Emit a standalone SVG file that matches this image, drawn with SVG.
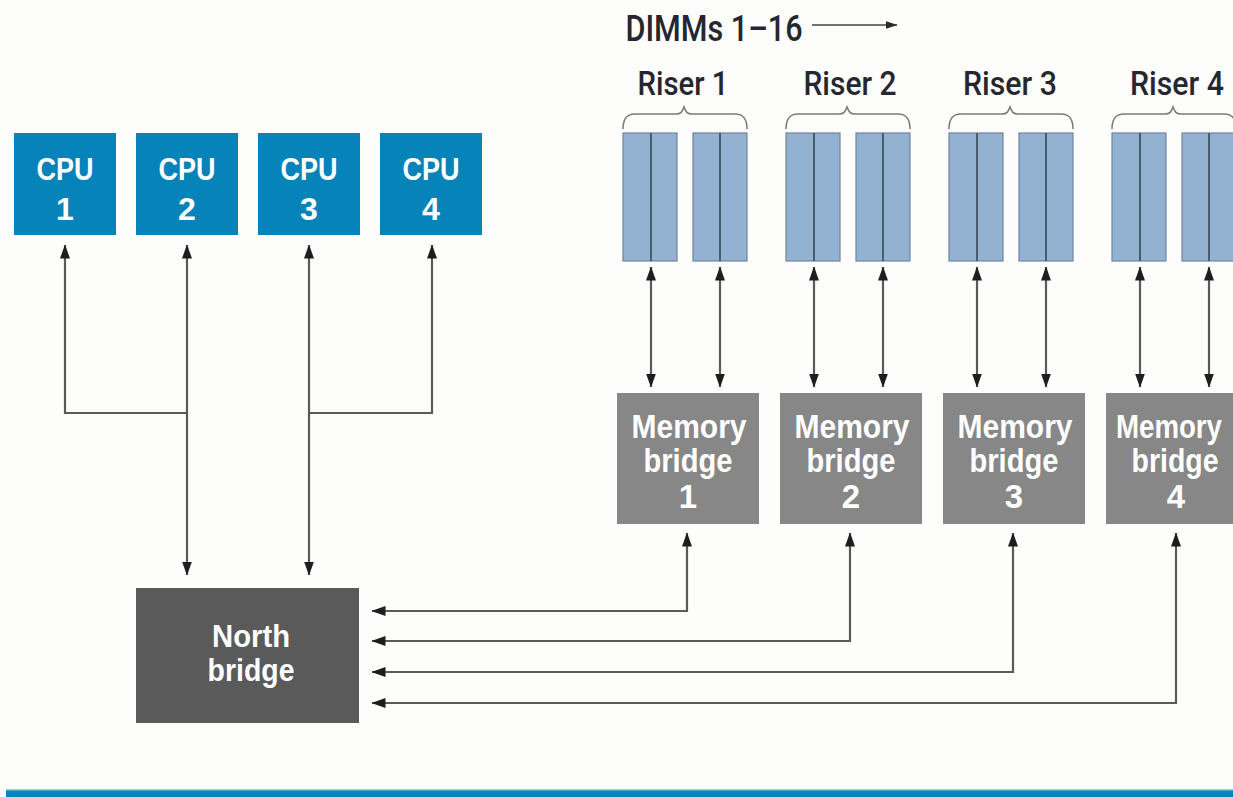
<svg xmlns="http://www.w3.org/2000/svg" width="1233" height="797" viewBox="0 0 1233 797">
  <defs>
    <marker id="ah" viewBox="0 0 14 10" markerUnits="userSpaceOnUse" markerWidth="14" markerHeight="10" refX="13.5" refY="5" orient="auto-start-reverse">
      <path d="M0,0 L14,5 L0,10 z" fill="#1e1e1e"/>
    </marker>
    <marker id="ahs" viewBox="0 0 12 8" markerUnits="userSpaceOnUse" markerWidth="12" markerHeight="8" refX="11.5" refY="4" orient="auto">
      <path d="M0,0 L12,4 L0,8 z" fill="#2a2a2a"/>
    </marker>
    <linearGradient id="barGrad" x1="0" y1="0" x2="0" y2="1">
      <stop offset="0" stop-color="#bfdcea"/>
      <stop offset="0.3" stop-color="#0a89bd"/>
      <stop offset="1" stop-color="#0083b9"/>
    </linearGradient>
  </defs>
  <style>
    .cpu { fill: #0683b8; }
    .mb { fill: #878787; }
    .nb { fill: #5a5a5a; }
    .stick { fill: #93b1d1; stroke: #6f849b; stroke-width: 1.2; }
    .div { stroke: #4b5b6e; stroke-width: 2; }
    .brace { fill: none; stroke: #7a7a7a; stroke-width: 1.6; }
    .wt { fill: #ffffff; font-family: "Liberation Sans", Arial, sans-serif; font-weight: bold; text-anchor: middle; }
    .mbt { font-size: 33px; }
    .lbl { fill: #262630; font-family: Roboto, "Liberation Sans", Arial, sans-serif; font-weight: 500; text-anchor: middle; }
    .conn path { fill: none; stroke: #5a5a5a; stroke-width: 2.2; }
  </style>

  <rect x="0" y="0" width="1233" height="797" fill="#fdfdfb"/>

  <!-- title -->
  <g id="dimms-label">
    <text class="lbl" x="714" y="41" font-size="36" textLength="177" lengthAdjust="spacingAndGlyphs">DIMMs 1–16</text>
    <path d="M812,25 H897" stroke="#444" stroke-width="1.6" fill="none" marker-end="url(#ahs)"/>
  </g>

  <!-- CPUs -->
  <g id="cpu1">
    <rect class="cpu" x="14" y="133" width="102" height="102"/>
    <text class="wt" x="65" y="180" font-size="32" textLength="57" lengthAdjust="spacingAndGlyphs">CPU</text>
    <text class="wt" x="65" y="220" font-size="32">1</text>
  </g>
  <g id="cpu2">
    <rect class="cpu" x="136" y="133" width="102" height="102"/>
    <text class="wt" x="187" y="180" font-size="32" textLength="57" lengthAdjust="spacingAndGlyphs">CPU</text>
    <text class="wt" x="187" y="220" font-size="32">2</text>
  </g>
  <g id="cpu3">
    <rect class="cpu" x="258" y="133" width="102" height="102"/>
    <text class="wt" x="309" y="180" font-size="32" textLength="57" lengthAdjust="spacingAndGlyphs">CPU</text>
    <text class="wt" x="309" y="220" font-size="32">3</text>
  </g>
  <g id="cpu4">
    <rect class="cpu" x="380" y="133" width="102" height="102"/>
    <text class="wt" x="431" y="180" font-size="32" textLength="57" lengthAdjust="spacingAndGlyphs">CPU</text>
    <text class="wt" x="431" y="220" font-size="32">4</text>
  </g>

  <!-- North bridge -->
  <g id="north-bridge">
    <rect class="nb" x="136" y="588" width="223" height="135"/>
    <text class="wt" x="251" y="647" font-size="32" textLength="78" lengthAdjust="spacingAndGlyphs">North</text>
    <text class="wt" x="251" y="681" font-size="32" textLength="87" lengthAdjust="spacingAndGlyphs">bridge</text>
  </g>

  <!-- Risers with DIMM sticks -->
  <g id="riser1">
    <text class="lbl" x="683" y="95" font-size="33" textLength="91" lengthAdjust="spacingAndGlyphs">Riser 1</text>
    <path class="brace" d="M623,129 C623,118 627,114 635,114 H676 C681,114 682,112 684,107 C686,112 687,114 692,114 H735 C743,114 747,118 747,129"/>
    <rect class="stick" x="623" y="133" width="54" height="128"/>
    <rect class="stick" x="693" y="133" width="54" height="128"/>
    <path class="div" d="M651,133 V261 M720,133 V261"/>
  </g>
  <g id="riser2">
    <text class="lbl" x="850" y="95" font-size="33" textLength="93" lengthAdjust="spacingAndGlyphs">Riser 2</text>
    <path class="brace" d="M786,129 C786,118 790,114 798,114 H839 C844,114 845,112 847,107 C849,112 850,114 855,114 H898 C906,114 910,118 910,129"/>
    <rect class="stick" x="786" y="133" width="54" height="128"/>
    <rect class="stick" x="856" y="133" width="54" height="128"/>
    <path class="div" d="M814,133 V261 M883,133 V261"/>
  </g>
  <g id="riser3">
    <text class="lbl" x="1010" y="95" font-size="33" textLength="94" lengthAdjust="spacingAndGlyphs">Riser 3</text>
    <path class="brace" d="M949,129 C949,118 953,114 961,114 H1002 C1007,114 1008,112 1010,107 C1012,112 1013,114 1018,114 H1061 C1069,114 1073,118 1073,129"/>
    <rect class="stick" x="949" y="133" width="54" height="128"/>
    <rect class="stick" x="1019" y="133" width="54" height="128"/>
    <path class="div" d="M977,133 V261 M1046,133 V261"/>
  </g>
  <g id="riser4">
    <text class="lbl" x="1177" y="95" font-size="33" textLength="94" lengthAdjust="spacingAndGlyphs">Riser 4</text>
    <path class="brace" d="M1112,129 C1112,118 1116,114 1124,114 H1165 C1170,114 1171,112 1173,107 C1175,112 1176,114 1181,114 H1224 C1232,114 1236,118 1236,129"/>
    <rect class="stick" x="1112" y="133" width="54" height="128"/>
    <rect class="stick" x="1182" y="133" width="54" height="128"/>
    <path class="div" d="M1140,133 V261 M1209,133 V261"/>
  </g>

  <!-- Memory bridges -->
  <g id="memory-bridge1">
    <rect class="mb" x="617" y="393" width="142" height="131"/>
    <text class="wt mbt" x="689" y="438" textLength="115" lengthAdjust="spacingAndGlyphs">Memory</text>
    <text class="wt mbt" x="688" y="472" textLength="89" lengthAdjust="spacingAndGlyphs">bridge</text>
    <text class="wt mbt" x="688" y="508">1</text>
  </g>
  <g id="memory-bridge2">
    <rect class="mb" x="780" y="393" width="142" height="131"/>
    <text class="wt mbt" x="852" y="438" textLength="115" lengthAdjust="spacingAndGlyphs">Memory</text>
    <text class="wt mbt" x="851" y="472" textLength="89" lengthAdjust="spacingAndGlyphs">bridge</text>
    <text class="wt mbt" x="851" y="508">2</text>
  </g>
  <g id="memory-bridge3">
    <rect class="mb" x="943" y="393" width="142" height="131"/>
    <text class="wt mbt" x="1015" y="438" textLength="115" lengthAdjust="spacingAndGlyphs">Memory</text>
    <text class="wt mbt" x="1014" y="472" textLength="89" lengthAdjust="spacingAndGlyphs">bridge</text>
    <text class="wt mbt" x="1014" y="508">3</text>
  </g>
  <g id="memory-bridge4">
    <rect class="mb" x="1106" y="393" width="127" height="131"/>
    <text class="wt mbt" x="1169" y="438" textLength="106" lengthAdjust="spacingAndGlyphs">Memory</text>
    <text class="wt mbt" x="1175" y="472" textLength="87" lengthAdjust="spacingAndGlyphs">bridge</text>
    <text class="wt mbt" x="1176" y="508">4</text>
  </g>

  <!-- Connectors -->
  <g id="connectors" class="conn">
    <!-- CPU buses to north bridge -->
    <path d="M186,413 H65 V245" marker-end="url(#ah)"/>
    <path d="M187,245 V575" marker-start="url(#ah)" marker-end="url(#ah)"/>
    <path d="M309,245 V575" marker-start="url(#ah)" marker-end="url(#ah)"/>
    <path d="M309,413 H432 V245" marker-end="url(#ah)"/>
    <!-- DIMM links to memory bridges -->
    <path d="M651,267 V387" marker-start="url(#ah)" marker-end="url(#ah)"/>
    <path d="M720,267 V387" marker-start="url(#ah)" marker-end="url(#ah)"/>
    <path d="M814,267 V387" marker-start="url(#ah)" marker-end="url(#ah)"/>
    <path d="M883,267 V387" marker-start="url(#ah)" marker-end="url(#ah)"/>
    <path d="M977,267 V387" marker-start="url(#ah)" marker-end="url(#ah)"/>
    <path d="M1046,267 V387" marker-start="url(#ah)" marker-end="url(#ah)"/>
    <path d="M1140,267 V387" marker-start="url(#ah)" marker-end="url(#ah)"/>
    <path d="M1209,267 V387" marker-start="url(#ah)" marker-end="url(#ah)"/>
    <!-- memory bridges to north bridge -->
    <path d="M687,533 V611 H372" marker-start="url(#ah)" marker-end="url(#ah)"/>
    <path d="M850,533 V641 H372" marker-start="url(#ah)" marker-end="url(#ah)"/>
    <path d="M1013,533 V672 H372" marker-start="url(#ah)" marker-end="url(#ah)"/>
    <path d="M1176,533 V703 H372" marker-start="url(#ah)" marker-end="url(#ah)"/>
  </g>

  <!-- footer rule -->
  <rect x="6" y="789" width="1227" height="8" fill="url(#barGrad)"/>
</svg>
